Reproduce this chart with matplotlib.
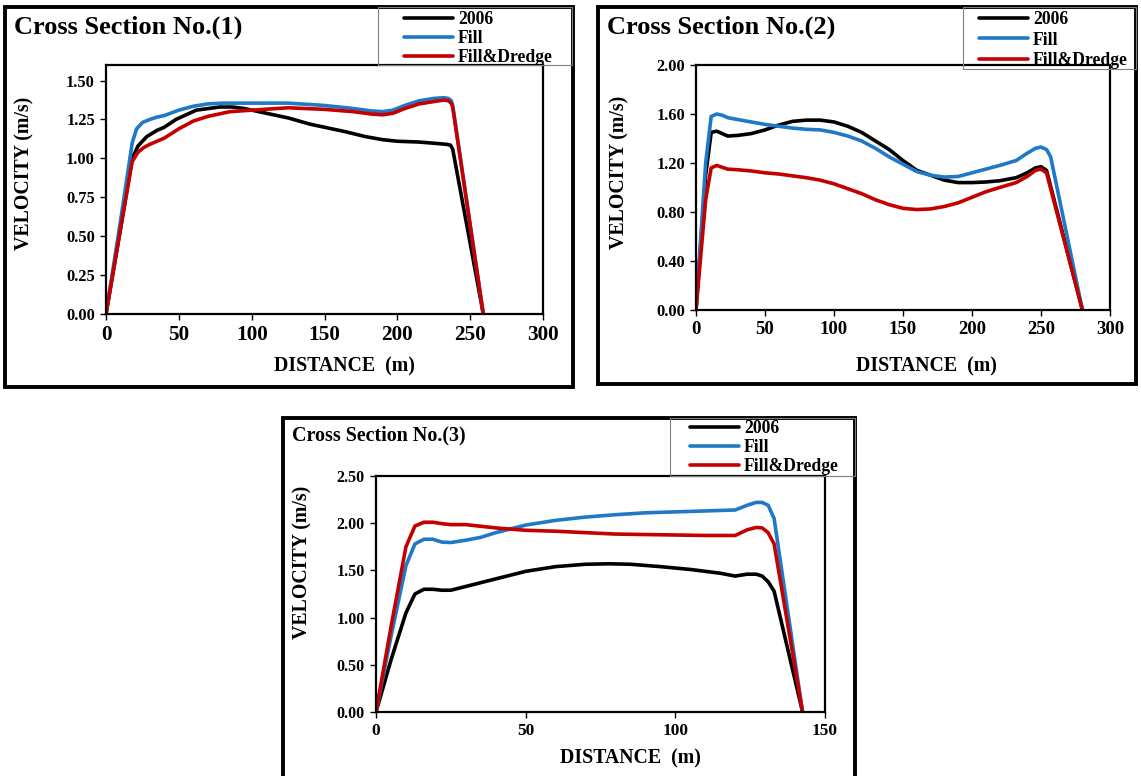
import matplotlib
matplotlib.use("Agg")
import matplotlib.pyplot as plt
from matplotlib.patches import Rectangle

plt.rcParams['font.family'] = ['Liberation Serif', 'DejaVu Serif']
plt.rcParams['font.weight'] = 'bold'

W, H = 1141, 776

# ---- data (distance m, velocity m/s) ----
# cross section 1
x1_2006 = [0, 10, 18, 22, 28, 35, 40, 48, 55, 62, 70, 78, 87, 95, 100, 110, 125, 140, 150, 165, 178, 190, 200, 215, 228, 234, 236.5, 238, 259]
v1_2006 = [0, 0.55, 1.0, 1.08, 1.14, 1.18, 1.2, 1.25, 1.28, 1.31, 1.32, 1.33, 1.33, 1.32, 1.31, 1.29, 1.26, 1.22, 1.2, 1.17, 1.14, 1.12, 1.11, 1.105, 1.095, 1.09, 1.085, 1.06, 0]
x1_fill = [0, 10, 18, 21, 25, 30, 35, 40, 50, 60, 70, 80, 100, 125, 150, 170, 182, 190, 197, 205, 215, 225, 232, 235, 237, 238, 259]
v1_fill = [0, 0.6, 1.1, 1.19, 1.23, 1.25, 1.265, 1.275, 1.31, 1.335, 1.35, 1.355, 1.355, 1.355, 1.34, 1.32, 1.305, 1.3, 1.31, 1.34, 1.37, 1.385, 1.39, 1.385, 1.37, 1.34, 0]
x1_fd = [0, 10, 18, 22, 26, 30, 35, 40, 50, 60, 70, 85, 100, 125, 150, 170, 182, 190, 197, 205, 215, 225, 232, 235, 237, 238, 259]
v1_fd = [0, 0.55, 0.98, 1.04, 1.07, 1.09, 1.11, 1.13, 1.19, 1.24, 1.27, 1.3, 1.31, 1.325, 1.315, 1.3, 1.285, 1.28, 1.29, 1.32, 1.35, 1.365, 1.375, 1.37, 1.355, 1.33, 0]

# cross section 2
x2_2006 = [0, 7, 11, 15, 19, 23, 30, 40, 50, 60, 70, 80, 90, 100, 110, 120, 130, 140, 150, 160, 170, 180, 190, 200, 210, 220, 232, 240, 246, 250, 254, 280]
v2_2006 = [0, 1.1, 1.45, 1.46, 1.44, 1.42, 1.425, 1.44, 1.47, 1.51, 1.54, 1.55, 1.55, 1.535, 1.5, 1.45, 1.38, 1.31, 1.22, 1.14, 1.1, 1.06, 1.04, 1.04, 1.045, 1.055, 1.08, 1.12, 1.16, 1.17, 1.14, 0]
x2_fill = [0, 7, 11, 15, 19, 23, 30, 40, 50, 60, 70, 80, 90, 100, 110, 120, 130, 140, 150, 160, 170, 180, 190, 200, 210, 220, 232, 240, 246, 250, 254, 257, 280]
v2_fill = [0, 1.2, 1.58, 1.6, 1.59, 1.57, 1.555, 1.535, 1.515, 1.5, 1.485, 1.475, 1.47, 1.45, 1.42, 1.38, 1.32, 1.25, 1.19, 1.13, 1.1, 1.085, 1.09, 1.12, 1.15, 1.18, 1.22, 1.28, 1.32, 1.33, 1.31, 1.25, 0]
x2_fd = [0, 7, 11, 15, 19, 23, 30, 40, 50, 60, 70, 80, 90, 100, 110, 120, 130, 140, 150, 160, 170, 180, 190, 200, 210, 220, 232, 240, 246, 250, 254, 280]
v2_fd = [0, 0.9, 1.16, 1.18, 1.165, 1.15, 1.145, 1.135, 1.12, 1.11, 1.095, 1.08, 1.06, 1.03, 0.99, 0.95, 0.9, 0.86, 0.83, 0.82, 0.825, 0.845, 0.875, 0.92, 0.965, 1.0, 1.04, 1.09, 1.14, 1.15, 1.12, 0]

# cross section 3
x3_2006 = [0, 5, 10, 13, 16, 19, 22, 25, 30, 35, 40, 50, 60, 70, 78, 85, 95, 105, 115, 120, 124, 127, 129, 131, 133, 142.5]
v3_2006 = [0, 0.55, 1.05, 1.25, 1.3, 1.3, 1.29, 1.29, 1.33, 1.37, 1.41, 1.49, 1.54, 1.565, 1.57, 1.565, 1.54, 1.51, 1.47, 1.44, 1.46, 1.46, 1.44, 1.38, 1.28, 0]
x3_fill = [0, 5, 10, 13, 16, 19, 22, 25, 30, 35, 40, 50, 60, 70, 80, 90, 100, 110, 120, 124, 127, 129, 131, 133, 142.5]
v3_fill = [0, 0.8, 1.55, 1.78, 1.83, 1.83, 1.8, 1.795, 1.82, 1.85, 1.9, 1.98, 2.03, 2.065, 2.09, 2.11, 2.12, 2.13, 2.14, 2.19, 2.22, 2.22, 2.19, 2.05, 0]
x3_fd = [0, 5, 10, 13, 16, 19, 22, 25, 30, 40, 50, 60, 70, 80, 90, 100, 110, 120, 124, 127, 129, 131, 133, 142.5]
v3_fd = [0, 0.9, 1.75, 1.97, 2.01, 2.01, 1.995, 1.985, 1.985, 1.95, 1.925, 1.915, 1.9, 1.885, 1.88, 1.875, 1.87, 1.87, 1.93, 1.955, 1.95, 1.9, 1.78, 0]

labels = ['2006', 'Fill', 'Fill&Dredge']
colors = ['black', '#1f78c8', '#c40000']


def fx(px):
    return px / W


def fy(py):
    return 1 - py / H


fig = plt.figure(figsize=(W / 100, H / 100), dpi=100)

panels = [
    dict(ax=(106, 65, 543, 314), frame=(5, 7, 573, 387), leg=(378, 7, 572, 65),
         title='Cross Section No.(1)', tpos=(14, 27), tsize=19,
         xs=(x1_2006, x1_fill, x1_fd), vs=(v1_2006, v1_fill, v1_fd),
         xlim=(0, 300), xticks=range(0, 301, 50), ylim=(0, 1.6),
         yticks=[0, 0.25, 0.5, 0.75, 1.0, 1.25, 1.5], xts=15.3, yts=11.8,
         xl=(344, 366), yl=(24, 173), legpos=(404, 11), lsp=0.12),
    dict(ax=(696, 65, 1110, 310), frame=(598, 7, 1136, 384), leg=(963, 7, 1136, 69),
         title='Cross Section No.(2)', tpos=(607, 27), tsize=19,
         xs=(x2_2006, x2_fill, x2_fd), vs=(v2_2006, v2_fill, v2_fd),
         xlim=(0, 300), xticks=range(0, 301, 50), ylim=(0, 2.0),
         yticks=[0, 0.4, 0.8, 1.2, 1.6, 2.0], xts=13.5, yts=11.8,
         xl=(926, 366), yl=(619, 172), legpos=(979, 11), lsp=0.2),
    dict(ax=(376, 476, 825, 712), frame=(283, 418, 855, 790), leg=(670, 418, 855, 476),
         title='Cross Section No.(3)', tpos=(292, 435), tsize=14.4,
         xs=(x3_2006, x3_fill, x3_fd), vs=(v3_2006, v3_fill, v3_fd),
         xlim=(0, 150), xticks=range(0, 151, 50), ylim=(0, 2.5),
         yticks=[0, 0.5, 1.0, 1.5, 2.0, 2.5], xts=12.5, yts=11.5,
         xl=(630, 758), yl=(302, 562), legpos=(690, 420), lsp=0.12),
]

for p in panels:
    # outer black frame
    l, t, r, b = p['frame']
    fig.add_artist(Rectangle((fx(l), fy(b)), fx(r) - fx(l), fy(t) - fy(b),
                             transform=fig.transFigure, fill=False,
                             edgecolor='black', linewidth=2.8))
    # legend box (thin grey)
    l, t, r, b = p['leg']
    fig.add_artist(Rectangle((fx(l), fy(b)), fx(r) - fx(l), fy(t) - fy(b),
                             transform=fig.transFigure, fill=False,
                             edgecolor='#808080', linewidth=0.8))

    l, t, r, b = p['ax']
    ax = fig.add_axes([fx(l), fy(b), fx(r) - fx(l), fy(t) - fy(b)])
    for xx, vv, c, lab in zip(p['xs'], p['vs'], colors, labels):
        ax.plot(xx, vv, color=c, linewidth=2.6, label=lab,
                solid_joinstyle='round', solid_capstyle='round')
    ax.set_xlim(*p['xlim'])
    ax.set_ylim(*p['ylim'])
    ax.set_xticks(list(p['xticks']))
    ax.set_yticks(p['yticks'])
    ax.set_yticklabels([f'{v:.2f}' for v in p['yticks']], fontsize=p['yts'], fontweight='bold')
    ax.set_xticklabels([str(v) for v in p['xticks']], fontsize=p['xts'], fontweight='bold')
    ax.tick_params(direction='out', length=4, width=1, pad=4)
    for s in ax.spines.values():
        s.set_linewidth(1.6)

    ax.set_xlabel('DISTANCE  (m)', fontsize=14.3, fontweight='bold')
    ax.xaxis.set_label_coords(fx(p['xl'][0]), fy(p['xl'][1]), transform=fig.transFigure)
    ax.xaxis.label.set_va('center')
    ax.set_ylabel('VELOCITY (m/s)', fontsize=14.3, fontweight='bold')
    ax.yaxis.set_label_coords(fx(p['yl'][0]), fy(p['yl'][1]), transform=fig.transFigure)
    ax.yaxis.label.set_va('center')

    fig.text(fx(p['tpos'][0]), fy(p['tpos'][1]), p['title'], fontsize=p['tsize'],
             fontweight='bold', ha='left', va='center')

    ax.legend(loc='upper left', bbox_to_anchor=(fx(p['legpos'][0]), fy(p['legpos'][1])),
              bbox_transform=fig.transFigure, frameon=False, borderpad=0, borderaxespad=0,
              handlelength=2.8, handletextpad=0.25, labelspacing=p['lsp'],
              prop=dict(size=12.7, weight='bold'))

fig.savefig('out.png', dpi=100)
